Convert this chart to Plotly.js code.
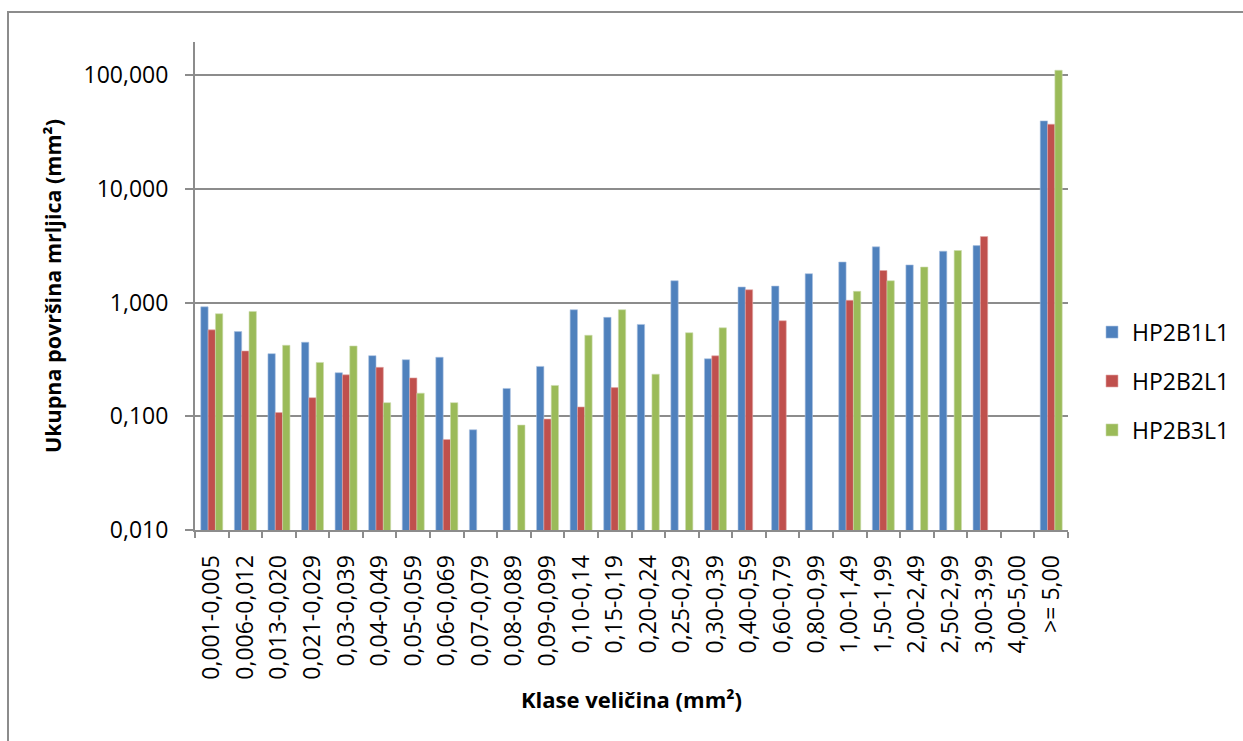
<!DOCTYPE html>
<html>
<head>
<meta charset="utf-8">
<script src="https://cdn.plot.ly/plotly-3.0.1.min.js"></script>
<style>
  html, body { margin:0; padding:0; background:#fff; overflow:hidden; }
  #frame { position:absolute; left:7px; top:11px; width:1400px; height:900px; border:2px solid #8c8c8c; pointer-events:none; }
  #chart { position:absolute; left:0; top:0; width:1243px; height:741px; }
</style>
</head>
<body>
<div id="chart"></div>
<div id="frame"></div>
<script>
const categories = ["0,001-0,005","0,006-0,012","0,013-0,020","0,021-0,029","0,03-0,039","0,04-0,049","0,05-0,059","0,06-0,069","0,07-0,079","0,08-0,089","0,09-0,099","0,10-0,14","0,15-0,19","0,20-0,24","0,25-0,29","0,30-0,39","0,40-0,59","0,60-0,79","0,80-0,99","1,00-1,49","1,50-1,99","2,00-2,49","2,50-2,99","3,00-3,99","4,00-5,00",">= 5,00"];
const seriesNames = ["HP2B1L1","HP2B2L1","HP2B3L1"];
const hp2b1l1 = [0.92,0.557,0.356,0.449,0.242,0.342,0.315,0.331,0.0762,0.176,0.275,0.867,0.743,0.644,1.56,0.321,1.375,1.40,1.80,2.28,3.10,2.15,2.84,3.18,null,39.8];
const hp2b2l1 = [0.577,0.376,0.108,0.146,0.232,0.270,0.218,0.0626,null,null,0.0947,0.121,0.179,null,null,0.341,1.30,0.694,null,1.05,1.92,null,null,3.82,null,37.2];
const hp2b3l1 = [0.80,0.838,0.422,0.298,0.416,0.132,0.160,0.132,null,0.0838,0.187,0.517,0.867,0.235,0.544,0.601,null,null,null,1.26,1.56,2.06,2.88,null,null,111];
const yTickVals = [0.01,0.1,1,10,100];
const yTickText = ["0,010","0,100","1,000","10,000","100,000"];
const colors = ["#4F81BD","#C0504D","#9BBB59"];
const edge = ["#a9c1e0","#e2a9a7","#cddcae"];

const allSeries = [hp2b1l1, hp2b2l1, hp2b3l1];
const FONT = "'Open Sans', Lato, sans-serif";
const traces = allSeries.map((vals, i) => ({
  type: "bar",
  name: seriesNames[i],
  x: categories,
  y: vals,
  legendgroup: "g" + i,
  marker: { color: colors[i], line: { color: edge[i], width: 0.6 } },
  hoverinfo: "x+y+name"
}));

const layout = {
  width: 1243, height: 741,
  paper_bgcolor: "rgba(0,0,0,0)", plot_bgcolor: "rgba(0,0,0,0)",
  margin: { l: 195, r: 175, t: 42, b: 211, pad: 0, autoexpand: false },
  barmode: "group", bargap: 0.345, bargroupgap: 0,
  font: { family: FONT, size: 23, color: "#000" },
  showlegend: true,
  legend: {
    x: 1.0275, xanchor: "left", y: 0.305, yanchor: "middle",
    font: { family: FONT, size: 23, color: "#000" },
    traceorder: "grouped", tracegroupgap: 16,
    bgcolor: "rgba(0,0,0,0)", borderwidth: 0
  },
  xaxis: {
    type: "category",
    tickson: "boundaries",
    ticks: "outside", ticklen: 6, tickwidth: 2, tickcolor: "#8c8c8c",
    showline: true, linecolor: "#8c8c8c", linewidth: 2,
    showgrid: false, zeroline: false,
    tickangle: -90,
    tickfont: { family: FONT, size: 23, color: "#000" },
    ticklabelstandoff: 14,
    automargin: false,
    title: { text: "<b>Klase veličina (mm²)</b>", font: { family: FONT, size: 22, color: "#000" }, standoff: 14 },
    fixedrange: true
  },
  yaxis: {
    type: "log",
    range: [-2, 2.294],
    tickvals: yTickVals, ticktext: yTickText,
    ticks: "outside", ticklen: 8, tickwidth: 2, tickcolor: "#8c8c8c",
    showline: true, linecolor: "#8c8c8c", linewidth: 2,
    showgrid: true, gridcolor: "#8c8c8c", gridwidth: 2,
    zeroline: false,
    tickfont: { family: FONT, size: 23, color: "#000" },
    ticklabelstandoff: 12,
    automargin: false,
    title: { text: "<b>Ukupna površina mrljica (mm²)</b>", font: { family: FONT, size: 21.5, color: "#000" }, standoff: 16 },
    fixedrange: true
  }
};

Plotly.newPlot("chart", traces, layout, { displayModeBar: false, staticPlot: true });
</script>
</body>
</html>
